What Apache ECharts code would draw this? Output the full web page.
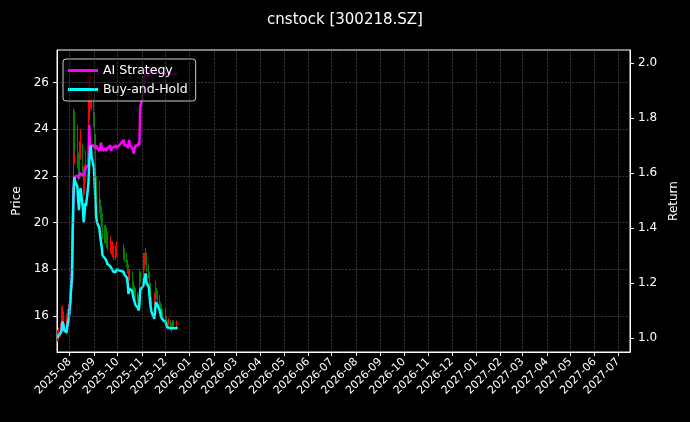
<!DOCTYPE html>
<html><head><meta charset="utf-8">
<script src="https://cdn.jsdelivr.net/npm/echarts@6/dist/echarts.min.js"></script>
<style>html,body{margin:0;background:#000}#c{width:690px;height:422px}</style>
</head><body><div id="c"></div>
<script>
const dates = ['2025-07-17','2025-07-18','2025-07-21','2025-07-22','2025-07-23','2025-07-24','2025-07-25','2025-07-28','2025-07-29','2025-07-30','2025-07-31',
'2025-08-01','2025-08-04','2025-08-05','2025-08-06','2025-08-07','2025-08-08','2025-08-11','2025-08-12','2025-08-13','2025-08-14','2025-08-15','2025-08-18','2025-08-19','2025-08-20','2025-08-21','2025-08-22','2025-08-25','2025-08-26','2025-08-27','2025-08-28','2025-08-29',
'2025-09-01','2025-09-02','2025-09-03','2025-09-04','2025-09-05','2025-09-08','2025-09-09','2025-09-10','2025-09-11','2025-09-12','2025-09-15','2025-09-16','2025-09-17','2025-09-18','2025-09-19','2025-09-22','2025-09-23','2025-09-24','2025-09-25','2025-09-26','2025-09-29','2025-09-30',
'2025-10-09','2025-10-10','2025-10-13','2025-10-14','2025-10-15','2025-10-16','2025-10-17','2025-10-20','2025-10-21','2025-10-22','2025-10-23','2025-10-24','2025-10-27','2025-10-28','2025-10-29','2025-10-30','2025-10-31',
'2025-11-03','2025-11-04','2025-11-05','2025-11-06','2025-11-07','2025-11-10','2025-11-11','2025-11-12','2025-11-13','2025-11-14','2025-11-17','2025-11-18','2025-11-19','2025-11-20','2025-11-21','2025-11-24','2025-11-25','2025-11-26','2025-11-27','2025-11-28',
'2025-12-01','2025-12-02','2025-12-03','2025-12-04','2025-12-05','2025-12-08','2025-12-09','2025-12-10','2025-12-11','2025-12-12','2025-12-15','2025-12-16'];
const opens = [15.10,15.06,15.21,15.36,15.51,15.96,15.81,15.51,15.36,15.66,15.96,
16.11,16.57,18.37,20.78,22.89,23.87,23.64,23.34,22.59,22.06,22.89,23.27,22.14,21.39,21.84,22.44,22.29,23.49,24.62,25.30,25.60,
25.00,24.40,23.49,22.59,21.69,21.39,21.08,20.63,20.33,20.03,19.58,19.43,19.43,19.28,19.13,19.13,18.98,18.98,18.83,18.83,18.67,18.67,
18.83,18.67,18.52,18.37,18.07,17.47,17.77,17.70,17.62,17.32,17.17,17.02,16.87,16.72,16.57,16.87,17.70,
17.62,17.92,18.22,18.37,18.60,18.07,17.85,17.32,16.87,16.57,16.42,16.11,16.57,17.02,16.94,16.87,16.57,16.34,16.19,16.11,
16.04,15.96,15.81,15.66,15.59,15.66,15.59,15.51,15.66,15.59,15.66,15.59];
const closes = [15.06,15.21,15.36,15.51,15.96,15.81,15.51,15.36,15.66,15.96,16.11,
16.57,18.37,20.78,22.89,23.87,23.64,23.34,22.59,22.06,22.89,23.27,22.14,21.39,21.84,22.44,22.29,23.49,24.62,25.30,25.60,25.00,
24.40,23.49,22.59,21.69,21.39,21.08,20.63,20.33,20.03,19.58,19.43,19.43,19.28,19.13,19.13,18.98,18.98,18.83,18.83,18.67,18.67,18.83,
18.67,18.52,18.37,18.07,17.47,17.77,17.70,17.62,17.32,17.17,17.02,16.87,16.72,16.57,16.87,17.70,17.62,
17.92,18.22,18.37,18.60,18.07,17.85,17.32,16.87,16.57,16.42,16.11,16.57,17.02,16.94,16.87,16.57,16.34,16.19,16.11,16.04,
15.96,15.81,15.66,15.59,15.66,15.59,15.51,15.66,15.59,15.66,15.59,15.66];
const highs = [15.40,15.50,15.70,16.40,16.45,16.20,15.95,15.70,16.10,16.30,16.50,
16.90,18.60,21.50,24.90,24.60,24.80,24.20,23.80,23.00,23.50,24.00,23.40,22.40,22.50,23.00,23.10,24.20,26.30,26.50,26.60,25.90,
25.40,24.70,23.80,22.90,22.00,21.80,21.40,21.00,20.70,20.40,19.90,19.90,19.80,19.60,19.60,19.40,19.40,19.20,19.20,19.00,19.00,19.20,
19.10,18.90,18.70,18.40,18.20,18.00,18.00,17.90,17.70,17.50,17.30,17.20,17.00,16.90,17.40,18.00,17.90,
18.60,18.70,18.70,18.90,18.70,18.20,17.90,17.40,16.90,16.80,16.50,17.00,17.50,17.20,17.10,16.90,16.60,16.50,16.40,16.30,
16.30,16.10,16.00,15.80,15.90,15.80,15.70,15.80,15.80,15.80,15.70,15.80];
const lows = [14.90,14.95,15.10,15.30,15.40,15.50,15.30,15.20,15.30,15.50,15.80,
15.90,16.50,18.20,20.50,22.50,23.00,22.90,22.30,21.80,21.90,22.70,22.00,21.10,21.20,21.70,22.00,22.10,23.30,24.40,24.90,24.80,
24.10,23.20,22.30,21.40,21.00,20.80,20.40,20.10,19.80,19.30,19.10,19.10,19.00,18.90,18.80,18.70,18.70,18.60,18.50,18.40,18.40,18.50,
18.40,18.30,18.10,17.80,17.30,17.40,17.50,17.40,17.10,17.00,16.80,16.70,16.50,16.40,16.50,16.80,17.40,
17.40,17.80,18.00,18.20,17.90,17.60,17.10,16.70,16.40,16.20,15.90,16.00,16.40,16.70,16.60,16.40,16.10,16.00,15.90,15.80,
15.80,15.60,15.50,15.40,15.50,15.40,15.30,15.40,15.40,15.50,15.40,15.50];
const aiReturn = [1.00,1.01,1.02,1.03,1.06,1.05,1.03,1.02,1.04,1.06,1.07,
1.10,1.22,1.38,1.52,1.585,1.58,1.59,1.59,1.58,1.60,1.60,1.59,1.59,1.60,1.61,1.62,1.63,1.775,1.70,1.69,1.70,
1.70,1.69,1.69,1.70,1.69,1.68,1.69,1.71,1.69,1.68,1.69,1.69,1.68,1.69,1.69,1.70,1.68,1.69,1.69,1.69,1.70,1.69,
1.72,1.70,1.70,1.69,1.70,1.72,1.70,1.69,1.68,1.67,1.69,1.70,1.70,1.71,1.70,1.84,1.85,
1.88,1.93,1.97,1.99,1.96,1.95,1.97,1.98,1.97,1.96,1.97,1.98,1.97,1.96,1.97,1.97,1.96,1.97,1.97,1.96,
1.96,1.96,1.96,1.96,1.96,1.96,1.96,1.96,1.96,1.96,1.96,1.96];
const bhReturn = [1.00,1.01,1.02,1.03,1.06,1.05,1.03,1.02,1.04,1.06,1.07,
1.10,1.22,1.38,1.52,1.585,1.57,1.55,1.50,1.465,1.52,1.545,1.47,1.42,1.45,1.49,1.48,1.56,1.635,1.68,1.70,1.66,
1.62,1.56,1.50,1.44,1.42,1.40,1.37,1.35,1.33,1.30,1.29,1.29,1.28,1.27,1.27,1.26,1.26,1.25,1.25,1.24,1.24,1.25,
1.24,1.23,1.22,1.20,1.16,1.18,1.175,1.17,1.15,1.14,1.13,1.12,1.11,1.10,1.12,1.175,1.17,
1.19,1.21,1.22,1.235,1.20,1.185,1.15,1.12,1.10,1.09,1.07,1.10,1.13,1.125,1.12,1.10,1.085,1.075,1.07,1.065,
1.06,1.05,1.04,1.035,1.04,1.035,1.03,1.04,1.035,1.04,1.035,1.04];
const monthTicks = ['2025-08-01','2025-09-01','2025-10-01','2025-11-01','2025-12-01','2026-01-01','2026-02-01','2026-03-01','2026-04-01','2026-05-01','2026-06-01','2026-07-01','2026-08-01','2026-09-01','2026-10-01','2026-11-01','2026-12-01','2027-01-01','2027-02-01','2027-03-01','2027-04-01','2027-05-01','2027-06-01','2027-07-01'];
const priceTicks = [16,18,20,22,24,26];
const returnTicks = [1.0,1.2,1.4,1.6,1.8,2.0];

const chart = echarts.init(document.getElementById('c'));
const ts = s => new Date(s + 'T00:00:00Z').getTime();
const gridLine = {color:'#555', type:'dashed', width:0.6};
chart.setOption({
  backgroundColor:'#000',
  animation:false,
  title:{text:'cnstock [300218.SZ]', left:'center', top:8, textStyle:{color:'#fff', fontSize:15, fontWeight:'normal', fontFamily:'DejaVu Sans'}},
  grid:{left:57, right:60, top:50, bottom:70, show:true, borderColor:'#fff', borderWidth:1},
  legend:{left:63, top:59, orient:'vertical', itemGap:6, itemWidth:30, itemHeight:3, icon:'rect',
    backgroundColor:'rgba(0,0,0,0.8)', borderColor:'#ccc', borderWidth:1, borderRadius:3, padding:[5,8,5,5],
    textStyle:{color:'#fff', fontSize:12.5, fontFamily:'DejaVu Sans'}, data:['AI Strategy','Buy-and-Hold']},
  xAxis:{type:'value', min:ts('2025-07-16'), max:ts('2027-07-16'),
    axisLine:{lineStyle:{color:'#fff'}}, splitLine:{show:false},
    axisTick:{customValues:monthTicks.map(ts), lineStyle:{color:'#fff'}, length:4},
    axisLabel:{customValues:monthTicks.map(ts), rotate:45, color:'#fff', fontSize:11, fontFamily:'DejaVu Sans',
      formatter:v=>{const d=new Date(v);return d.getUTCFullYear()+'-'+String(d.getUTCMonth()+1).padStart(2,'0');}}},
  yAxis:[
    {type:'value', min:14.45, max:27.4, name:'Price', nameLocation:'middle', nameGap:34, nameTextStyle:{color:'#fff', fontSize:12, fontFamily:'DejaVu Sans'},
      axisLine:{show:true, lineStyle:{color:'#fff'}}, splitLine:{show:false},
      axisTick:{show:true, customValues:priceTicks, lineStyle:{color:'#fff'}, length:4},
      axisLabel:{customValues:priceTicks, color:'#fff', fontSize:12, fontFamily:'DejaVu Sans'}},
    {type:'value', min:0.949, max:2.047, name:'Return', nameLocation:'middle', nameGap:36, nameTextStyle:{color:'#fff', fontSize:12, fontFamily:'DejaVu Sans'},
      axisLine:{show:true, lineStyle:{color:'#fff'}}, splitLine:{show:false},
      axisTick:{show:true, customValues:returnTicks, lineStyle:{color:'#fff'}, length:4},
      axisLabel:{customValues:returnTicks, color:'#fff', fontSize:12, fontFamily:'DejaVu Sans', formatter:v=>v.toFixed(1)}}
  ],
  series:[
    {type:'candlestick', yAxisIndex:0, barMaxWidth:1.5, barWidth:1.2,
      itemStyle:{color:'#ff0000', color0:'#008000', borderColor:'#ff0000', borderColor0:'#008000', borderWidth:1},
      data:dates.map((d,i)=>[ts(d), opens[i], closes[i], lows[i], highs[i]]),
      markLine:{silent:true, symbol:'none', label:{show:false}, lineStyle:gridLine,
        data:[...monthTicks.map(m=>({xAxis:ts(m)})), ...priceTicks.map(p=>({yAxis:p}))]}},
    {type:'line', name:'AI Strategy', yAxisIndex:1, showSymbol:false, color:'#ff00ff', lineStyle:{width:2.5},
      data:dates.map((d,i)=>[ts(d), aiReturn[i]])},
    {type:'line', name:'Buy-and-Hold', yAxisIndex:1, showSymbol:false, color:'#00ffff', lineStyle:{width:2.5},
      data:dates.map((d,i)=>[ts(d), bhReturn[i]])}
  ]
});
</script></body></html>
